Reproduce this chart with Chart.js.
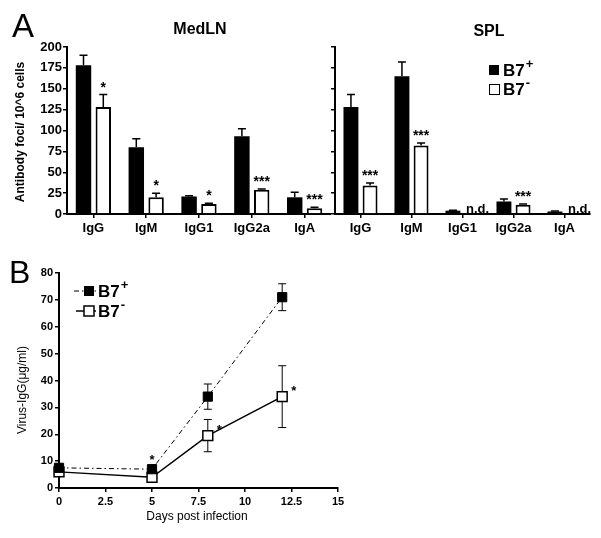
<!DOCTYPE html>
<html>
<head>
<meta charset="utf-8">
<script src="https://cdn.jsdelivr.net/npm/chart.js@4.4.0/dist/chart.umd.min.js"></script>
<style>
html, body { margin: 0; padding: 0; background: #fff; }
#wrap { position: relative; width: 601px; height: 538px; overflow: hidden; }
canvas { position: absolute; }
</style>
</head>
<body>
<div id="wrap">
  <canvas id="medChart" width="331" height="245" style="left:0;top:0"></canvas>
  <canvas id="splChart" width="271" height="245" style="left:330px;top:0"></canvas>
  <canvas id="dayChart" width="360" height="288" style="left:0;top:250px"></canvas>
</div>
<script>
// Panel A - antibody foci per 10^6 cells
const categories = ['IgG', 'IgM', 'IgG1', 'IgG2a', 'IgA'];

const medPos = [178, 80, 21, 93, 20];
const medPosErr = [12, 10, 1, 9, 6];
const medNeg = [128, 20, 12, 29, 7];
const medNegErr = [15, 5, 1, 1, 1];
const medMarks = ['*', '*', '*', '***', '***'];

const splPos = [128, 165, 4, 15, 3];
const splPosErr = [15, 17, 0.5, 3, 0.5];
const splNeg = [34, 82, 0, 11, 0];
const splNegErr = [3, 3, 0, 1, 0];
const splMarks = ['***', '***', 'n.d.', '***', 'n.d.'];

const yTicksA = [0, 25, 50, 75, 100, 125, 150, 175, 200];

// Panel B - virus specific IgG over time
const days = [0, 5, 8, 12];
const posIgG = [7.5, 7, 34, 71];
const posIgGErr = [1.5, 1.5, 4.7, 5];
const negIgG = [6, 4, 19.5, 34];
const negIgGErr = [1.5, 1, 6, 11.5];
const negStars = ['', '*', '*', '*'];

const FONT = "'Liberation Sans', Arial, sans-serif";
Chart.defaults.font.family = FONT;
Chart.defaults.color = '#000';
Chart.defaults.animation = false;

function txt(ctx, s, x, y, font, align, base, rot) {
    ctx.save();
    ctx.font = font;
    ctx.fillStyle = '#000';
    ctx.textAlign = align || 'left';
    ctx.textBaseline = base || 'alphabetic';
    ctx.translate(x, y);
    if (rot) ctx.rotate(rot);
    ctx.fillText(s, 0, 0);
    ctx.restore();
}

// "B7" with a raised + or -
function supLabel(ctx, x, y, sign, size) {
    ctx.save();
    ctx.font = 'bold ' + size + 'px ' + FONT;
    ctx.fillStyle = '#000';
    ctx.textBaseline = 'middle';
    ctx.textAlign = 'left';
    ctx.fillText('B7', x, y + 1);
    const w = ctx.measureText('B7').width;
    ctx.font = 'bold ' + Math.round(size * 0.75) + 'px ' + FONT;
    ctx.fillText(sign, x + w + 1, y - size * 0.3);
    ctx.restore();
}

function errCap(ctx, x, y1, y2, half) {
    ctx.beginPath();
    ctx.moveTo(x, y1);
    ctx.lineTo(x, y2);
    ctx.moveTo(x - half, y2);
    ctx.lineTo(x + half, y2);
    ctx.stroke();
}

const barExtras = {
    id: 'barExtras',
    afterDatasetsDraw(chart, args, opts) {
        const ctx = chart.ctx;
        const yS = chart.scales.y;
        ctx.save();
        ctx.strokeStyle = '#000';
        ctx.lineWidth = 1.5;
        opts.errs.forEach((errs, di) => {
            const meta = chart.getDatasetMeta(di);
            const vals = chart.data.datasets[di].data;
            meta.data.forEach((bar, i) => {
                if (!errs[i]) return;
                errCap(ctx, bar.x, bar.y, yS.getPixelForValue(vals[i] + errs[i]), 4);
            });
        });
        ctx.restore();
        const negMeta = chart.getDatasetMeta(1);
        const negVals = chart.data.datasets[1].data;
        opts.marks.forEach((m, i) => {
            const bar = negMeta.data[i];
            if (m === 'n.d.') {
                txt(ctx, m, bar.x - 6, yS.getPixelForValue(0) - 1, 'bold 13px ' + FONT, 'left', 'alphabetic');
            } else {
                const top = yS.getPixelForValue(negVals[i] + opts.errs[1][i]);
                txt(ctx, m, bar.x, top - 3, 'bold 14px ' + FONT, 'center', 'alphabetic');
            }
        });
    },
    afterDraw(chart, args, opts) {
        if (opts.draw) opts.draw(chart.ctx, chart);
    }
};

function makeBarPanel(id, pos, neg, posErr, negErr, marks, showTicks, yWidth, padRight, draw) {
    return new Chart(document.getElementById(id), {
        type: 'bar',
        data: {
            labels: categories,
            datasets: [
                { label: 'B7+', data: pos, backgroundColor: '#000', borderColor: '#000', borderWidth: 0,
                  categoryPercentage: 0.75, barPercentage: 0.78 },
                { label: 'B7-', data: neg, backgroundColor: '#fff', borderColor: '#000', borderWidth: 2,
                  categoryPercentage: 0.75, barPercentage: 0.78 }
            ]
        },
        options: {
            responsive: false,
            layout: { padding: { top: 47, right: padRight, left: 0, bottom: 0 } },
            plugins: {
                legend: { display: false },
                tooltip: { enabled: false },
                barExtras: { errs: [posErr, negErr], marks: marks, draw: draw }
            },
            scales: {
                x: {
                    grid: { drawOnChartArea: false, offset: false, tickLength: 4, color: '#000', lineWidth: 1.5 },
                    border: { color: '#000', width: 2 },
                    ticks: { font: { size: 13, weight: 'bold' }, padding: 3, maxRotation: 0 },
                    afterFit: s => { s.height = 31; }
                },
                y: {
                    min: 0, max: 200,
                    afterBuildTicks: s => { s.ticks = yTicksA.map(v => ({ value: v })); },
                    grid: { drawOnChartArea: false, tickLength: 4, color: '#000', lineWidth: 1.5 },
                    border: { color: '#000', width: 2 },
                    ticks: { display: showTicks, font: { size: 13, weight: 'bold' }, padding: 1 },
                    afterFit: s => { s.width = yWidth; }
                }
            }
        },
        plugins: [barExtras]
    });
}

makeBarPanel('medChart', medPos, medNeg, medPosErr, medNegErr, medMarks, true, 67, 0, (ctx) => {
    txt(ctx, 'A', 12, 37, '33px ' + FONT, 'left', 'alphabetic');
    txt(ctx, 'MedLN', 200, 30, 'bold 16px ' + FONT, 'center', 'middle');
    txt(ctx, 'Antibody foci/ 10^6 cells', 21, 132, 'bold 12px ' + FONT, 'center', 'middle', -Math.PI / 2);
});

makeBarPanel('splChart', splPos, splNeg, splPosErr, splNegErr, splMarks, false, 5, 11, (ctx) => {
    txt(ctx, 'SPL', 159, 32, 'bold 16px ' + FONT, 'center', 'middle');
    ctx.save();
    ctx.fillStyle = '#000';
    ctx.fillRect(159, 65, 10, 10);
    ctx.fillStyle = '#fff';
    ctx.strokeStyle = '#000';
    ctx.lineWidth = 1;
    ctx.fillRect(159.5, 84.5, 10, 10);
    ctx.strokeRect(159.5, 84.5, 10, 10);
    ctx.restore();
    supLabel(ctx, 173, 70, '+', 17);
    supLabel(ctx, 173, 89, '-', 17);
});

// Panel B
const lineExtras = {
    id: 'lineExtras',
    beforeDatasetsDraw(chart) {
        const ctx = chart.ctx;
        const xS = chart.scales.x, yS = chart.scales.y;
        ctx.save();
        ctx.strokeStyle = '#000';
        ctx.lineWidth = 1;
        [[posIgG, posIgGErr], [negIgG, negIgGErr]].forEach(([vals, errs]) => {
            days.forEach((d, i) => {
                const x = xS.getPixelForValue(d);
                errCap(ctx, x, yS.getPixelForValue(vals[i]), yS.getPixelForValue(vals[i] + errs[i]), 4);
                errCap(ctx, x, yS.getPixelForValue(vals[i]), yS.getPixelForValue(vals[i] - errs[i]), 4);
            });
        });
        ctx.restore();
    },
    afterDraw(chart) {
        const ctx = chart.ctx;
        const xS = chart.scales.x, yS = chart.scales.y;
        negStars.forEach((s, i) => {
            if (!s) return;
            const x = xS.getPixelForValue(days[i]);
            if (Math.abs(posIgG[i] - negIgG[i]) < 5) {
                txt(ctx, s, x, yS.getPixelForValue(posIgG[i] + posIgGErr[i]) - 1, 'bold 13px ' + FONT, 'center', 'alphabetic');
            } else {
                txt(ctx, s, x + 9, yS.getPixelForValue(negIgG[i]) - 2, 'bold 13px ' + FONT, 'left', 'alphabetic');
            }
        });
        txt(ctx, 'B', 9, 33, '32px ' + FONT, 'left', 'alphabetic');
        txt(ctx, 'Virus-IgG(\u03bcg/ml)', 23, 140, '12px ' + FONT, 'center', 'middle', -Math.PI / 2);
        txt(ctx, 'Days post infection', 197, 267, '12px ' + FONT, 'center', 'middle');

        // legend
        ctx.save();
        ctx.strokeStyle = '#000';
        ctx.lineWidth = 1;
        ctx.setLineDash([5, 3, 1.5, 3]);
        ctx.beginPath(); ctx.moveTo(74, 41); ctx.lineTo(96, 41); ctx.stroke();
        ctx.setLineDash([]);
        ctx.lineWidth = 1.5;
        ctx.beginPath(); ctx.moveTo(76, 61); ctx.lineTo(96, 61); ctx.stroke();
        ctx.fillStyle = '#000';
        ctx.fillRect(84, 36, 10, 10);
        ctx.fillStyle = '#fff';
        ctx.fillRect(84, 56, 10, 10);
        ctx.strokeRect(84, 56, 10, 10);
        ctx.restore();
        supLabel(ctx, 98, 41, '+', 17);
        supLabel(ctx, 98, 61, '-', 17);
    }
};

new Chart(document.getElementById('dayChart'), {
    type: 'line',
    data: {
        datasets: [
            { label: 'B7+', data: days.map((d, i) => ({ x: d, y: posIgG[i] })),
              borderColor: '#000', borderWidth: 1, borderDash: [5, 3, 1.5, 3],
              pointStyle: 'rect', pointRadius: 6.5, pointBackgroundColor: '#000', pointBorderColor: '#000',
              pointBorderWidth: 1, fill: false, tension: 0, clip: false },
            { label: 'B7-', data: days.map((d, i) => ({ x: d, y: negIgG[i] })),
              borderColor: '#000', borderWidth: 1.5,
              pointStyle: 'rect', pointRadius: 7, pointBackgroundColor: '#fff', pointBorderColor: '#000',
              pointBorderWidth: 1.5, fill: false, tension: 0, clip: false }
        ]
    },
    options: {
        responsive: false,
        layout: { padding: { top: 23, right: 22, left: 0, bottom: 0 } },
        plugins: { legend: { display: false }, tooltip: { enabled: false } },
        scales: {
            x: {
                type: 'linear', min: 0, max: 15,
                ticks: { stepSize: 2.5, font: { size: 11, weight: 'bold' }, padding: 3 },
                grid: { drawOnChartArea: false, tickLength: 4, color: '#000', lineWidth: 1.5 },
                border: { color: '#000', width: 2 },
                afterFit: s => { s.height = 50; }
            },
            y: {
                min: 0, max: 80,
                ticks: { stepSize: 10, font: { size: 11, weight: 'bold' }, padding: 2 },
                grid: { drawOnChartArea: false, tickLength: 4, color: '#000', lineWidth: 1.5 },
                border: { color: '#000', width: 2 },
                afterFit: s => { s.width = 59; }
            }
        }
    },
    plugins: [lineExtras]
});
</script>
</body>
</html>
